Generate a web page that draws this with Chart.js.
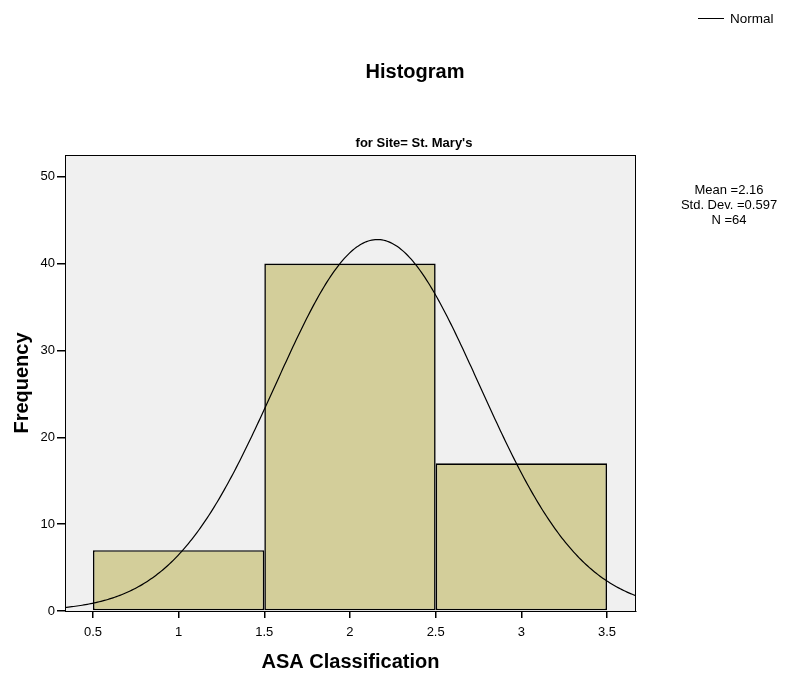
<!DOCTYPE html>
<html>
<head>
<meta charset="utf-8">
<title>Histogram</title>
<script src="https://cdn.jsdelivr.net/npm/chart.js@4/dist/chart.umd.min.js"></script>
<style>
  html, body { margin: 0; padding: 0; background: #ffffff; }
  #wrap { width: 796px; height: 675px; position: relative; }
</style>
</head>
<body>
<div id="wrap"><canvas id="chart" width="796" height="675"></canvas></div>
<script>
// ASA classification bins (centres) and their frequencies
const binCenters = [1, 2, 3];
const frequencies = [7, 40, 17];
const binWidth = 1;

// Summary statistics shown beside the plot
const mean = 2.16;
const stdDev = 0.597;
const n = 64;

const xTicks = [0.5, 1, 1.5, 2, 2.5, 3, 3.5];
const xTickStep = 0.5;
const yTicks = [0, 10, 20, 30, 40, 50];

const xMin = 0.337, xMax = 3.669;
const yMin = 0, yMax = 52.5;

// Fitted normal curve scaled to the histogram counts
const normalCurve = [];
for (let x = xMin; x <= xMax + 1e-9; x += 0.01) {
  const z = (x - mean) / stdDev;
  const y = n * binWidth * Math.exp(-0.5 * z * z) / (stdDev * Math.sqrt(2 * Math.PI));
  normalCurve.push({ x: x, y: y });
}

const FONT = 'Arial, "Liberation Sans", sans-serif';

// Grey plot background and black frame around the chart area
const frame = {
  id: 'frame',
  beforeDatasetsDraw(chart) {
    const { ctx, chartArea: a } = chart;
    ctx.save();
    ctx.fillStyle = '#f0f0f0';
    ctx.fillRect(a.left, a.top, a.right - a.left, a.bottom - a.top);
    ctx.restore();
  },
  afterDraw(chart) {
    const { ctx, chartArea: a } = chart;
    ctx.save();
    ctx.strokeStyle = '#000000';
    ctx.lineWidth = 1;
    ctx.strokeRect(a.left + 0.5, a.top + 0.5, a.right - a.left - 1, a.bottom - a.top);

    // titles
    ctx.fillStyle = '#000000';
    ctx.textAlign = 'center';
    ctx.textBaseline = 'middle';
    ctx.font = 'bold 20px ' + FONT;
    ctx.fillText('Histogram', 415, 72);
    ctx.font = 'bold 13px ' + FONT;
    ctx.fillText("for Site= St. Mary's", 414, 143);

    // statistics block
    ctx.font = '13px ' + FONT;
    ctx.fillText('Mean =' + mean.toFixed(2), 729, 190);
    ctx.fillText('Std. Dev. =' + stdDev.toFixed(3), 729, 205);
    ctx.fillText('N =' + n, 729, 220);

    // legend
    ctx.beginPath();
    ctx.moveTo(698, 18.5);
    ctx.lineTo(724, 18.5);
    ctx.strokeStyle = '#000000';
    ctx.lineWidth = 1;
    ctx.stroke();
    ctx.textAlign = 'left';
    ctx.font = '13.5px ' + FONT;
    ctx.fillText('Normal', 730, 19);
    ctx.restore();
  }
};

new Chart(document.getElementById('chart'), {
  type: 'bar',
  data: {
    datasets: [
      {
        type: 'line',
        label: 'Normal',
        data: normalCurve,
        borderColor: '#000000',
        borderWidth: 1.2,
        pointRadius: 0,
        fill: false,
        tension: 0,
        order: 0
      },
      {
        type: 'bar',
        label: 'Frequency',
        data: binCenters.map((c, i) => ({ x: c, y: frequencies[i] })),
        backgroundColor: '#d3ce9a',
        borderColor: '#000000',
        borderWidth: 1.6,
        borderSkipped: false,
        barPercentage: 1,
        // bar width is measured against the smallest tick gap, so scale it up to a full bin
        categoryPercentage: binWidth / xTickStep,
        order: 1
      }
    ]
  },
  options: {
    responsive: false,
    animation: false,
    layout: { padding: { top: 155, right: 160, bottom: 0, left: 0 } },
    plugins: {
      legend: { display: false },
      title: { display: false },
      tooltip: { enabled: false }
    },
    scales: {
      x: {
        type: 'linear',
        offset: false,
        min: xMin,
        max: xMax,
        afterBuildTicks(scale) { scale.ticks = xTicks.map(v => ({ value: v })); },
        afterFit(scale) { scale.height = 64; },
        ticks: {
          color: '#000000',
          font: { family: FONT, size: 13 },
          padding: 7,
          maxRotation: 0,
          autoSkip: false,
          callback: v => String(v)
        },
        grid: { offset: false, drawOnChartArea: false, drawTicks: true, tickLength: 7, color: '#000000', lineWidth: 1.5 },
        border: { display: true, color: '#000000', width: 1 },
        title: {
          display: true,
          text: 'ASA Classification',
          color: '#000000',
          font: { family: FONT, size: 20, weight: 'bold' },
          padding: { top: 0, bottom: 1 }
        }
      },
      y: {
        type: 'linear',
        min: yMin,
        max: yMax,
        afterBuildTicks(scale) { scale.ticks = yTicks.map(v => ({ value: v })); },
        afterFit(scale) { scale.width = 65; },
        ticks: {
          color: '#000000',
          font: { family: FONT, size: 13 },
          padding: 2,
          autoSkip: false
        },
        grid: { drawOnChartArea: false, drawTicks: true, tickLength: 8, color: '#000000', lineWidth: 1.5 },
        border: { display: true, color: '#000000', width: 1 },
        title: {
          display: true,
          text: 'Frequency',
          color: '#000000',
          font: { family: FONT, size: 20, weight: 'bold' },
          padding: { top: 10, bottom: 0 }
        }
      }
    }
  },
  plugins: [frame]
});
</script>
</body>
</html>
